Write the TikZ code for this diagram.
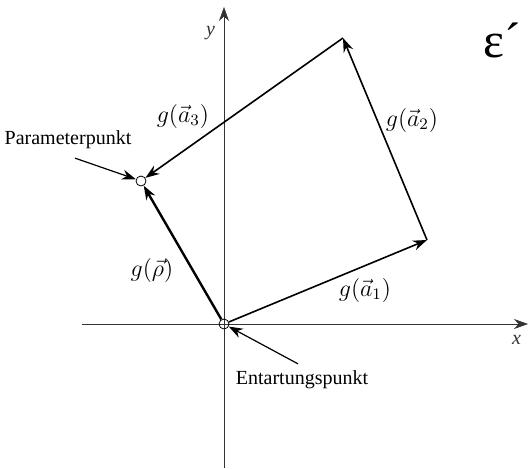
\documentclass[tikz,border=0pt]{standalone}
\usepackage{fontspec}
\setmainfont{Liberation Serif}
\usetikzlibrary{arrows.meta, positioning}

\begin{document}
\begin{tikzpicture}[
        x=0.5pt, y=0.5pt,
        >={Stealth[length=7pt, width=5pt]},
        axis/.style={draw, thin, black!80},
        vecline/.style={draw, ->, thick, black},
        pointer/.style={draw, ->, semithick, black},
        pt/.style={circle, draw, thin, inner sep=0pt, minimum size=5pt},
        lbl/.style={font=\large, inner sep=1pt}
    ]
        \useasboundingbox (-224, -144) rectangle (306, 324);

        % ================= ACHSEN =================
        \draw[axis, ->] (-142, 0) -- (304, 0) node[below left=2pt and 0pt, font=\itshape] (xlab) {x};
        \draw[axis, ->] (0, -144) -- (0, 317) node[below left=6pt and 1pt, font=\itshape] (ylab) {y};

        % ================= PUNKTE =================
        \node[pt] (O) at (0, 0) {};
        \node[pt] (P) at (-83, 143) {};
        \coordinate (A) at (203, 84);
        \coordinate (B) at (119, 286);

        % ================= VEKTOREN =================
        \path[vecline] (O) -- (A);
        \path[vecline] (A) -- (B);
        \path[vecline] (B) -- (P);
        \path[vecline, very thick] (O) -- (P);

        \node[lbl] (la1) at (141, 34) {$g(\vec{a}_1)$};
        \node[lbl] (la2) at (188, 204) {$g(\vec{a}_2)$};
        \node[lbl] (la3) at (-41, 208) {$g(\vec{a}_3)$};
        \node[lbl] (lrho) at (-72, 54) {$g(\vec{\rho})$};

        % ================= BESCHRIFTUNG =================
        \node[font=\Huge] (eps) at (278, 284) {ε´};

        \node (param) at (-156, 184) {Parameterpunkt};
        \path[pointer] ([xshift=3.5pt, yshift=-1pt]param.south) -- (P);

        \node (entart) at (78, -56) {Entartungspunkt};
        \path[pointer] ([xshift=-2pt]entart.north) -- (O);

    \end{tikzpicture}
\end{document}
